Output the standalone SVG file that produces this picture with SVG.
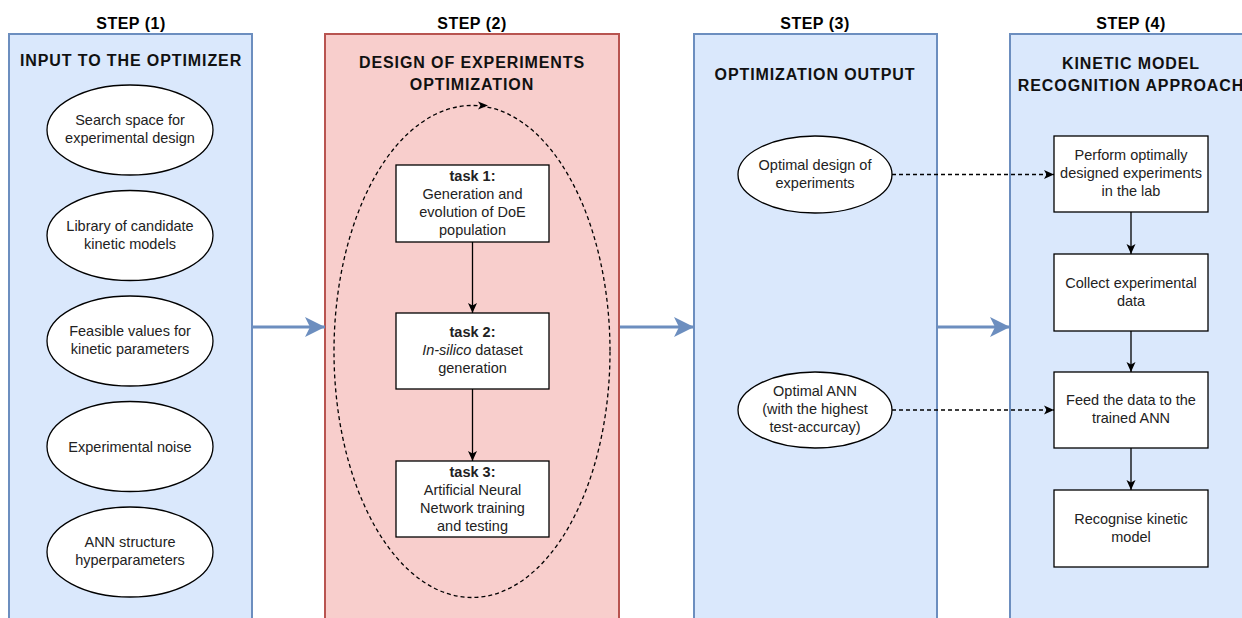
<svg xmlns="http://www.w3.org/2000/svg" width="1242" height="618" viewBox="0 0 1242 618">
  <style>
    .bg { fill: #ffffff; }
    .lane-blue { fill: #dae8fc; stroke: #6c8ebf; stroke-width: 2; }
    .lane-red { fill: #f8cecc; stroke: #b85450; stroke-width: 2; }
    .node { fill: #ffffff; stroke: #000000; stroke-width: 1.3; }
    .step { font-family: "Liberation Sans", Arial, sans-serif; font-size: 16px; font-weight: bold; fill: #000000; text-anchor: middle; letter-spacing: 0.5px; }
    .head { font-family: "Liberation Sans", Arial, sans-serif; font-size: 16px; font-weight: bold; fill: #111111; text-anchor: middle; letter-spacing: 0.9px; }
    .txt { font-family: "Liberation Sans", Arial, sans-serif; font-size: 14.5px; fill: #222222; text-anchor: middle; }
    .bold { font-weight: bold; }
    .edge { fill: none; stroke: #000000; stroke-width: 1.3; }
    .dash { fill: none; stroke: #000000; stroke-width: 1.3; stroke-dasharray: 4 3; }
    .flow { fill: none; stroke: #6c8ebf; stroke-width: 3; }
  </style>
  <defs>
    <marker id="arrBlack" markerUnits="userSpaceOnUse" viewBox="0 0 10 10" markerWidth="10" markerHeight="10" refX="10" refY="5" orient="auto">
      <path d="M0,0.5 L10,5 L0,9.5 L2.5,5 Z" fill="#000000"/>
    </marker>
    <marker id="arrBlue" markerUnits="userSpaceOnUse" viewBox="0 0 20 20" markerWidth="20" markerHeight="20" refX="20" refY="10" orient="auto">
      <path d="M0,0 L20,10 L0,20 L5,10 Z" fill="#6c8ebf"/>
    </marker>
  </defs>

  <rect class="bg" x="0" y="0" width="1242" height="618"/>

  <!-- Step labels -->
  <g id="step-labels">
    <text class="step" x="131" y="29">STEP (1)</text>
    <text class="step" x="472" y="29">STEP (2)</text>
    <text class="step" x="815" y="29">STEP (3)</text>
    <text class="step" x="1131" y="29">STEP (4)</text>
  </g>

  <!-- Lanes -->
  <g id="lane1">
    <rect class="lane-blue" x="9" y="34" width="243" height="600"/>
    <text class="head" x="131" y="66">INPUT TO THE OPTIMIZER</text>
  </g>
  <g id="lane2">
    <rect class="lane-red" x="325" y="34" width="294" height="600"/>
    <text class="head" x="472" y="68">DESIGN OF EXPERIMENTS</text>
    <text class="head" x="472" y="90">OPTIMIZATION</text>
  </g>
  <g id="lane3">
    <rect class="lane-blue" x="694" y="34" width="243" height="600"/>
    <text class="head" x="815" y="80">OPTIMIZATION OUTPUT</text>
  </g>
  <g id="lane4">
    <rect class="lane-blue" x="1010" y="34" width="260" height="600"/>
    <text class="head" x="1131" y="69">KINETIC MODEL</text>
    <text class="head" x="1131" y="91">RECOGNITION APPROACH</text>
  </g>

  <!-- Step 1 inputs -->
  <g id="in-search-space">
    <ellipse class="node" cx="130" cy="130" rx="83" ry="45"/>
    <text class="txt" x="130" y="125">Search space for</text>
    <text class="txt" x="130" y="143">experimental design</text>
  </g>
  <g id="in-library">
    <ellipse class="node" cx="130" cy="235.5" rx="83" ry="45"/>
    <text class="txt" x="130" y="230.5">Library of candidate</text>
    <text class="txt" x="130" y="248.5">kinetic models</text>
  </g>
  <g id="in-feasible">
    <ellipse class="node" cx="130" cy="341" rx="83" ry="45"/>
    <text class="txt" x="130" y="336">Feasible values for</text>
    <text class="txt" x="130" y="354">kinetic parameters</text>
  </g>
  <g id="in-noise">
    <ellipse class="node" cx="130" cy="446.5" rx="83" ry="45"/>
    <text class="txt" x="130" y="451.5">Experimental noise</text>
  </g>
  <g id="in-ann">
    <ellipse class="node" cx="130" cy="552" rx="83" ry="45"/>
    <text class="txt" x="130" y="547">ANN structure</text>
    <text class="txt" x="130" y="565">hyperparameters</text>
  </g>

  <!-- Step 2 loop and tasks -->
  <g id="loop">
    <ellipse class="dash" cx="472" cy="351.5" rx="138" ry="246"/>
    <path d="M478,101.5 L488,105.5 L478,109.5 L480.5,105.5 Z" fill="#000000"/>
  </g>
  <g id="task1">
    <rect class="node" x="396" y="165" width="153" height="77"/>
    <text class="txt bold" x="472.5" y="180.5">task 1:</text>
    <text class="txt" x="472.5" y="198.5">Generation and</text>
    <text class="txt" x="472.5" y="216.5">evolution of DoE</text>
    <text class="txt" x="472.5" y="234.5">population</text>
  </g>
  <g id="task2">
    <rect class="node" x="396" y="313" width="153" height="76"/>
    <text class="txt bold" x="472.5" y="337">task 2:</text>
    <text class="txt" x="472.5" y="355"><tspan font-style="italic">In-silico</tspan> dataset</text>
    <text class="txt" x="472.5" y="373">generation</text>
  </g>
  <g id="task3">
    <rect class="node" x="396" y="461" width="153" height="76"/>
    <text class="txt bold" x="472.5" y="476.5">task 3:</text>
    <text class="txt" x="472.5" y="494.5">Artificial Neural</text>
    <text class="txt" x="472.5" y="512.5">Network training</text>
    <text class="txt" x="472.5" y="530.5">and testing</text>
  </g>

  <!-- Step 3 outputs -->
  <g id="out-doe">
    <ellipse class="node" cx="815" cy="174.5" rx="77" ry="38.5"/>
    <text class="txt" x="815" y="169.5">Optimal design of</text>
    <text class="txt" x="815" y="187.5">experiments</text>
  </g>
  <g id="out-ann">
    <ellipse class="node" cx="815" cy="410" rx="77" ry="38"/>
    <text class="txt" x="815" y="396">Optimal ANN</text>
    <text class="txt" x="815" y="414">(with the highest</text>
    <text class="txt" x="815" y="432">test-accurcay)</text>
  </g>

  <!-- Step 4 boxes -->
  <g id="perform">
    <rect class="node" x="1054" y="136" width="154" height="76"/>
    <text class="txt" x="1131" y="160">Perform optimally</text>
    <text class="txt" x="1131" y="178">designed experiments</text>
    <text class="txt" x="1131" y="196">in the lab</text>
  </g>
  <g id="collect">
    <rect class="node" x="1054" y="254" width="154" height="77"/>
    <text class="txt" x="1131" y="287.5">Collect experimental</text>
    <text class="txt" x="1131" y="305.5">data</text>
  </g>
  <g id="feed">
    <rect class="node" x="1054" y="372" width="154" height="76"/>
    <text class="txt" x="1131" y="405">Feed the data to the</text>
    <text class="txt" x="1131" y="423">trained ANN</text>
  </g>
  <g id="recognise">
    <rect class="node" x="1054" y="490" width="154" height="77"/>
    <text class="txt" x="1131" y="523.5">Recognise kinetic</text>
    <text class="txt" x="1131" y="541.5">model</text>
  </g>

  <!-- Connectors -->
  <g id="connectors">
    <line class="flow" x1="253" y1="327" x2="325" y2="327" marker-end="url(#arrBlue)"/>
    <line class="flow" x1="620" y1="327" x2="694" y2="327" marker-end="url(#arrBlue)"/>
    <line class="flow" x1="938" y1="327" x2="1010" y2="327" marker-end="url(#arrBlue)"/>

    <line class="edge" x1="472.5" y1="242" x2="472.5" y2="313" marker-end="url(#arrBlack)"/>
    <line class="edge" x1="472.5" y1="389" x2="472.5" y2="461" marker-end="url(#arrBlack)"/>

    <line class="edge" x1="1131" y1="212" x2="1131" y2="254" marker-end="url(#arrBlack)"/>
    <line class="edge" x1="1131" y1="331" x2="1131" y2="372" marker-end="url(#arrBlack)"/>
    <line class="edge" x1="1131" y1="448" x2="1131" y2="490" marker-end="url(#arrBlack)"/>

    <line class="dash" x1="892" y1="174.5" x2="1054" y2="174.5" marker-end="url(#arrBlack)"/>
    <line class="dash" x1="892" y1="410" x2="1054" y2="410" marker-end="url(#arrBlack)"/>
  </g>
</svg>
